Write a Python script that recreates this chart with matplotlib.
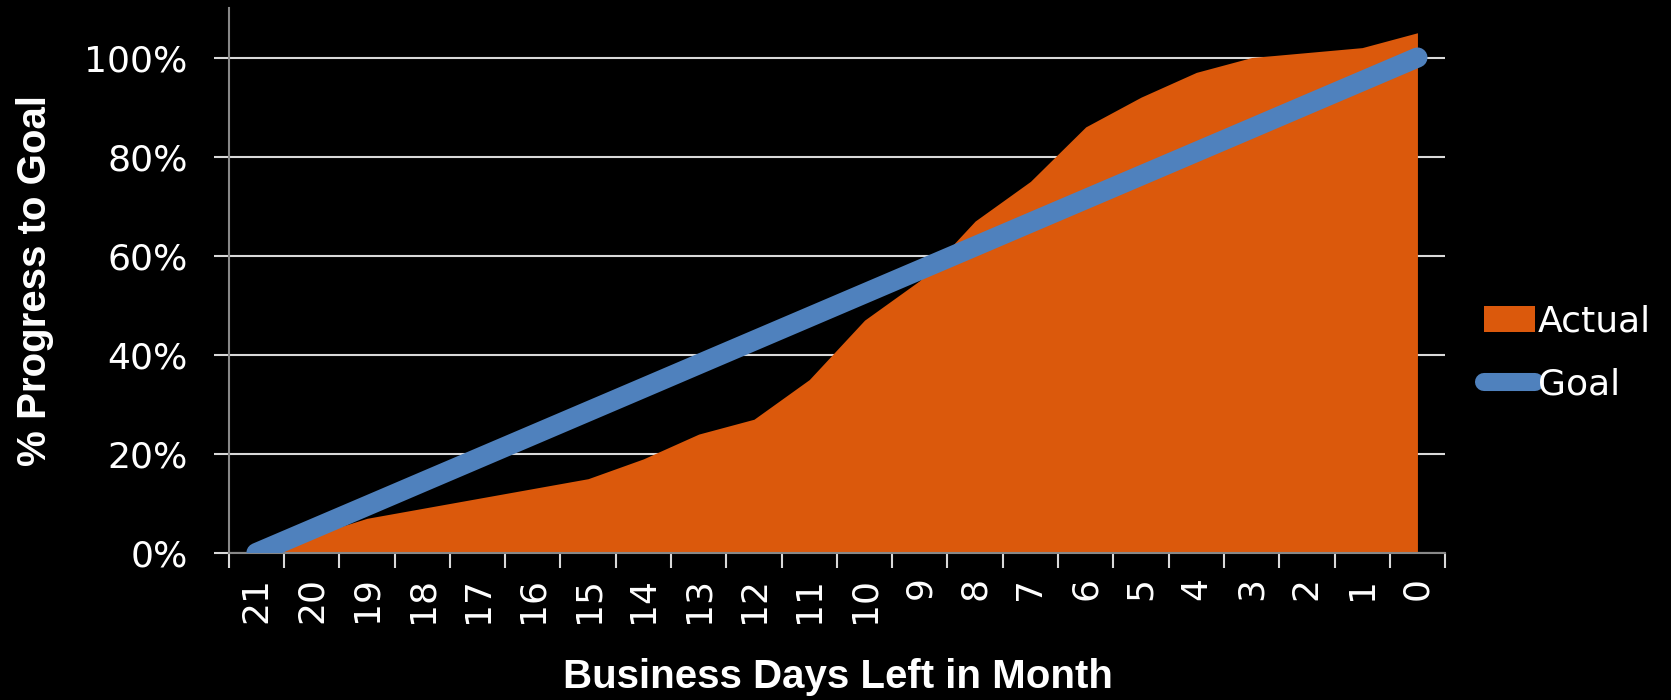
import matplotlib
matplotlib.use("Agg")
import matplotlib.pyplot as plt
from matplotlib.lines import Line2D
from matplotlib.patches import Patch

days = ["21", "20", "19", "18", "17", "16", "15", "14", "13", "12", "11",
        "10", "9", "8", "7", "6", "5", "4", "3", "2", "1", "0"]
actual = [0, 3.5, 7, 9, 11, 13, 15, 19, 24, 27, 35,
          47, 55, 67, 75, 86, 92, 97, 100, 101, 102, 105]
goal = [0, 4.76, 9.52, 14.29, 19.05, 23.81, 28.57, 33.33, 38.10, 42.86, 47.62,
        52.38, 57.14, 61.90, 66.67, 71.43, 76.19, 80.95, 85.71, 90.48, 95.24, 100]

orange = "#DB590C"
blue = "#4F81BD"
title_font = ["Liberation Sans", "DejaVu Sans"]

fig = plt.figure(figsize=(16.71, 7.0), dpi=100, facecolor="black")
ax = fig.add_axes([0.1369, 0.21, 0.7279, 0.7786], facecolor="black")

x = list(range(len(days)))
ax.fill_between(x, actual, 0, color=orange, linewidth=0, zorder=2)
ax.plot(x, goal, color=blue, linewidth=14.5, solid_capstyle="round", zorder=3)

ax.set_xlim(-0.5, len(days) - 0.5)
ax.set_ylim(0, 110)
ax.set_yticks([0, 20, 40, 60, 80, 100])
ax.set_yticklabels(["0%", "20%", "40%", "60%", "80%", "100%"])
ax.yaxis.grid(True, color="#d9d9d9", linewidth=1.5, zorder=1)
ax.set_axisbelow(True)

ax.set_xticks(x)
ax.set_xticklabels(days, rotation=90)
ax.set_xticks([i - 0.5 for i in range(len(days) + 1)], minor=True)
ax.tick_params(axis="x", which="major", length=0, pad=17, labelsize=26, labelcolor="white")
ax.tick_params(axis="x", which="minor", length=10.5, width=1.5, color="#d9d9d9", direction="out")
ax.tick_params(axis="y", length=10.5, width=1.5, color="#d9d9d9", pad=19, labelsize=26,
               labelcolor="white")

for s in ["top", "right"]:
    ax.spines[s].set_visible(False)
ax.spines["left"].set_color("#888888")
ax.spines["left"].set_linewidth(1.5)
ax.spines["bottom"].set_color("#888888")
ax.spines["bottom"].set_linewidth(1.5)

fig.text(35 / 1671, 1 - 280 / 700, "% Progress to Goal", rotation=90, ha="center", va="center",
         color="white", fontsize=29, fontweight="bold", family=title_font)
fig.text(838 / 1671, 1 - 677 / 700, "Business Days Left in Month", ha="center", va="center",
         color="white", fontsize=29, fontweight="bold", family=title_font)

handles = [Patch(facecolor=orange, edgecolor="none", label="Actual"),
           Line2D([0], [0], color=blue, linewidth=13, solid_capstyle="round", label="Goal")]
leg = ax.legend(handles=handles, loc="center left", bbox_to_anchor=(1.032, 0.367), frameon=False,
                fontsize=26, labelcolor="white", handlelength=1.4, handletextpad=0.1,
                labelspacing=0.8, borderpad=0, borderaxespad=0)

fig.savefig("out.png", dpi=100, facecolor="black")
